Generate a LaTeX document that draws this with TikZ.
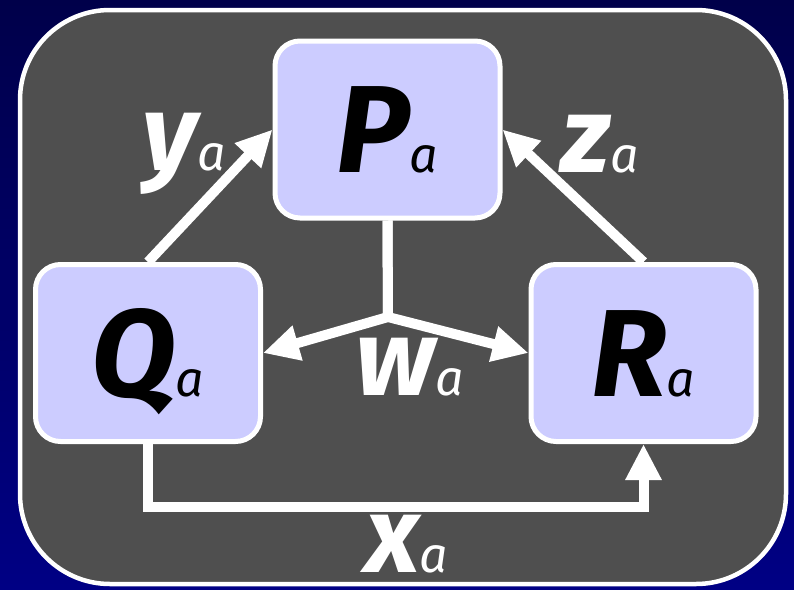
\documentclass[tikz,border=0pt]{standalone}
\usepackage{fontspec}
\setmainfont{Fira Sans}
\usetikzlibrary{arrows.meta}
\definecolor{navytop}{HTML}{00004A}
\definecolor{navybot}{HTML}{000084}
\definecolor{panel}{HTML}{4F4F4F}
\definecolor{boxfill}{HTML}{CCCCFF}
\newcommand\capl[2]{{\fontsize{124}{124}\selectfont\bfseries\itshape #1}{\fontsize{50}{50}\selectfont\itshape #2}}
\newcommand\lowl[2]{{\fontsize{108}{108}\selectfont\bfseries\itshape #1}{\fontsize{50}{50}\selectfont\itshape #2}}
\tikzset{
  box/.style={draw=white, line width=5pt, fill=boxfill, rounded corners=25pt,
    minimum width=225pt, minimum height=177pt, inner sep=0pt,
    text height=86pt, text depth=0pt, text=black},
  arr/.style={draw=white, line width=10pt, line join=miter,
    -{Triangle[length=36pt,width=34pt]}},
  lab/.style={text=white, anchor=base, inner sep=0pt}
}
\begin{document}
\begin{tikzpicture}[x=1pt, y=-1pt]
  \shade[top color=navytop, bottom color=navybot] (0,0) rectangle (794,589);
  \useasboundingbox (0,0) rectangle (794,589);
  \draw[white, line width=4.5pt, fill=panel, rounded corners=90pt] (20,10) rectangle (786,584);

  \node[box] (P) at (387.5,129.5) {\capl{P}{a}};
  \node[box] (Q) at (148,353) {\capl{Q}{a}};
  \node[box] (R) at (643.5,353) {\capl{R}{a}};

  \coordinate (J) at (388,317);

  \draw[arr] (Q.north) -- (P.west);
  \draw[arr] (R.north) -- (P.east);
  \draw[arr] (P.south) -- (J) -- (Q.east);
  \draw[arr] (P.south) -- (J) -- (R.west);
  \draw[arr] (Q.south) |- ([yshift=-62.5pt]R.south) -- (R.south);

  \node[lab] (ly) at (184,170) {\lowl{y}{a}};
  \node[lab] (lz) at (600,172) {\lowl{z}{a}};
  \node[lab] (lw) at (410,395) {\lowl{w}{a}};
  \node[lab] (lx) at (407,572) {\lowl{x}{a}};
\end{tikzpicture}
\end{document}
